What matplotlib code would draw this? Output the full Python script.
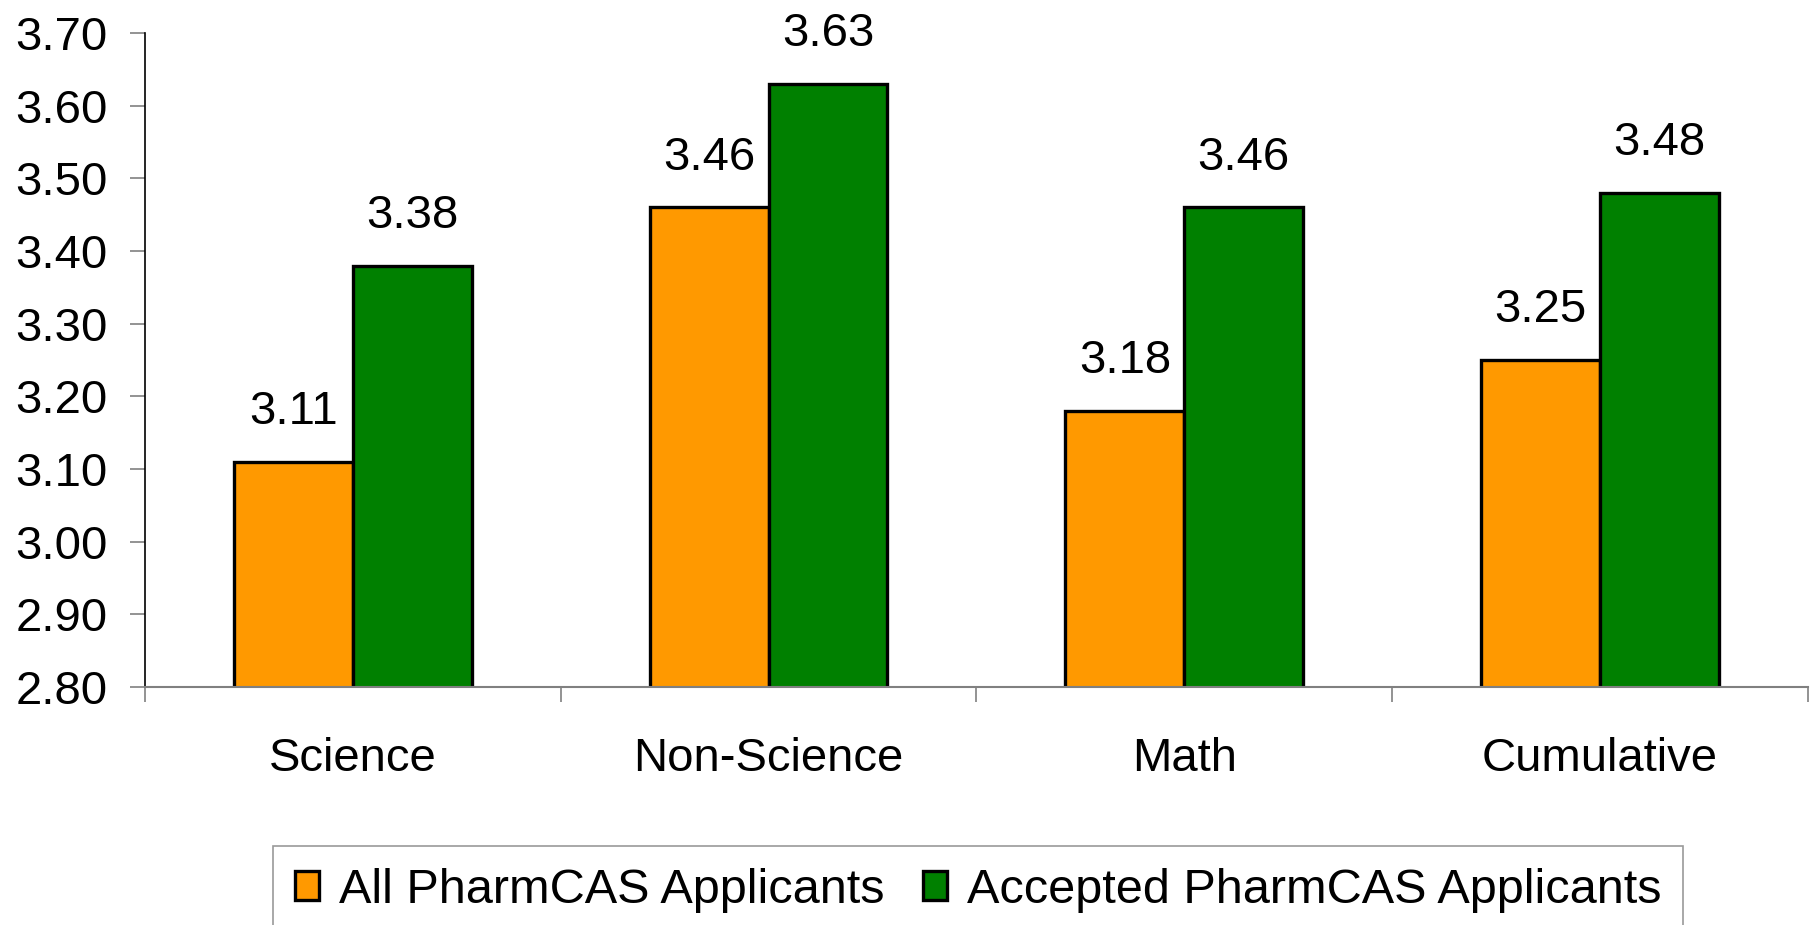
import numpy as np
import matplotlib
matplotlib.use("Agg")
import matplotlib.pyplot as plt
from matplotlib.ticker import FixedLocator, MultipleLocator, FormatStrFormatter

plt.rcParams['font.family'] = ['Liberation Sans', 'DejaVu Sans']

# data
categories = ["Science", "Non-Science", "Math", "Cumulative"]
all_applicants = [3.11, 3.46, 3.18, 3.25]
accepted_applicants = [3.38, 3.63, 3.46, 3.48]
series_names = ["All PharmCAS Applicants", "Accepted PharmCAS Applicants"]

fig = plt.figure(figsize=(18.16, 9.25), dpi=100)
ax = fig.add_axes([0.0798, 0.2573, 0.9158, 0.7070])

x = np.arange(len(categories)) + 0.5
w = 0.286
b1 = ax.bar(x - w / 2, all_applicants, w, color="#FF9900", edgecolor="black",
            linewidth=2.4, label=series_names[0])
b2 = ax.bar(x + w / 2, accepted_applicants, w, color="#008000", edgecolor="black",
            linewidth=2.4, label=series_names[1])

# value labels above bars
for bars, vals in [(b1, all_applicants), (b2, accepted_applicants)]:
    for r, v in zip(bars, vals):
        ax.annotate(f"{v:.2f}", (r.get_x() + r.get_width() / 2, v),
                    xytext=(0, 20), textcoords="offset points",
                    ha="center", va="bottom", fontsize=34)

ax.set_ylim(2.80, 3.70)
ax.set_xlim(0, len(categories))
ax.yaxis.set_major_locator(MultipleLocator(0.1))
ax.yaxis.set_major_formatter(FormatStrFormatter("%.2f"))
ax.tick_params(axis="y", labelsize=34, length=11, width=1.2, color="#808080", pad=16)

# category boundaries as ticks, names in between
ax.xaxis.set_major_locator(FixedLocator(np.arange(len(categories) + 1)))
ax.xaxis.set_major_formatter(plt.NullFormatter())
ax.xaxis.set_minor_locator(FixedLocator(x))
ax.set_xticklabels(categories, minor=True)
ax.tick_params(axis="x", which="major", length=11, width=1.2, color="#808080")
ax.tick_params(axis="x", which="minor", length=0, labelsize=34, pad=36)

ax.spines["top"].set_visible(False)
ax.spines["right"].set_visible(False)
ax.spines["left"].set_color("black")
ax.spines["left"].set_linewidth(1.2)
ax.spines["bottom"].set_color("#808080")
ax.spines["bottom"].set_linewidth(1.5)

leg = fig.legend(loc="upper center", bbox_to_anchor=(0.5386, 0.0854), ncol=2,
                 fontsize=35, frameon=True, fancybox=False, edgecolor="#808080",
                 handlelength=0.5, handleheight=0.55, handletextpad=0.4,
                 columnspacing=0.8, borderpad=0.45, borderaxespad=0)
leg.get_frame().set_linewidth(1.2)
for h in leg.legend_handles:
    h.set_linewidth(2.4)

fig.savefig("out.png", dpi=100)
